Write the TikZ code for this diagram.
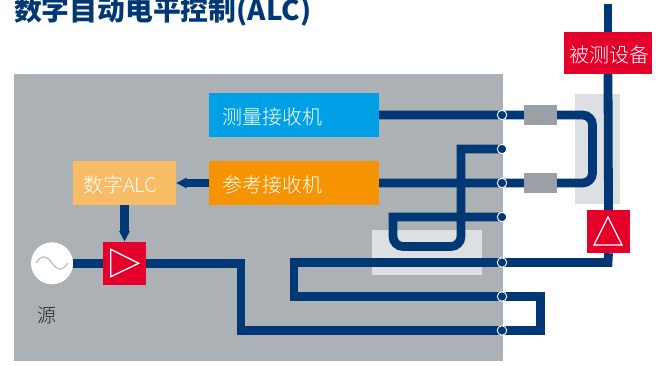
\documentclass[tikz,border=0pt]{standalone}
\usepackage{fontspec}
\setmainfont{Noto Sans CJK SC}
\newfontfamily\lightf{Noto Sans CJK SC Light}
\usetikzlibrary{arrows.meta}
\definecolor{navy}{HTML}{003876}
\definecolor{panel}{HTML}{ACB1B5}
\definecolor{pale}{HTML}{DDE0E3}
\definecolor{attgray}{HTML}{9AA0A6}
\definecolor{skyb}{HTML}{00A0E6}
\definecolor{orangeb}{HTML}{F59300}
\definecolor{peach}{HTML}{F8BC66}
\definecolor{redb}{HTML}{E4002B}
\definecolor{labelgray}{HTML}{222222}
\tikzset{
  x=1pt,y=-1pt,
  block/.style={inner sep=0pt,minimum height=44pt,text=white,font=\lightf\fontsize{20}{24}\selectfont,align=center,text height=21.6pt,text depth=2.4pt},
  redsq/.style={fill=redb,inner sep=0pt,minimum width=43pt,minimum height=43pt},
  att/.style={fill=attgray,inner sep=0pt,minimum width=33pt,minimum height=20pt},
  pale rect/.style={fill=pale},
  wire/.style={draw=navy,line width=8.8pt,line join=miter},
  soft/.style={wire,rounded corners=10pt},
  taper/.style={wire,-{Triangle[length=10.5pt,width=10pt]}},
  port/.style={circle,fill=navy,draw=white,line width=0.9pt,minimum size=9.5pt,inner sep=0pt},
  tri/.style={draw=white,line width=1.3pt,line join=miter},
}
\begin{document}
\begin{tikzpicture}
\useasboundingbox (0,0) rectangle (662,365);
\fill[white] (0,0) rectangle (662,365);
\fill[panel] (14,74) rectangle (503,361);
\fill[pale rect] (575,94) rectangle (620,204);
\fill[pale rect] (372,230) rectangle (482,275);

\node[anchor=base west,inner sep=0pt,text=navy,font=\fontsize{27.8}{32}\selectfont\bfseries] (title) at (14,20) {数字自动电平控制(ALC)};

% blocks
\node[block,fill=skyb,minimum width=170pt,text width=170pt-26pt,align=left] (meas) at (294,115) {测量接收机};
\node[block,fill=orangeb,minimum width=170pt,text width=170pt-26pt,align=left] (ref) at (294,183) {参考接收机};
\node[block,fill=peach,minimum width=103pt,text width=103pt-20pt,align=left] (alc) at (124.5,183) {数字ALC};
\node[redsq] (amp) at (124.5,263.3) {};
\node[circle,fill=white,minimum size=42pt,inner sep=0pt] (src) at (52,263.3) {};
\node[text=labelgray,font=\lightf\fontsize{19}{22}\selectfont,inner sep=0pt] (srclabel) at (47,315) {源};
\node[block,fill=redb,minimum width=88pt,minimum height=42pt] (dut) at (608,53) {\hspace*{2pt}被测设备};
\node[redsq] (tamp) at (608.5,231.5) {};

% ports
\coordinate (p1) at (502,115);
\coordinate (p2) at (502,149);
\coordinate (p3) at (502,183);
\coordinate (p4) at (502,217);
\coordinate (p5) at (502,262.5);
\coordinate (p6) at (502,296.5);
\coordinate (p7) at (502,330.5);
\coordinate (top) at (608,4);

% connectors
\draw[wire] (src.east) -- (amp.west);
\draw[taper] (ref.west) -- (alc.east);
\draw[taper] (alc.south) -- (amp.north);
\draw[soft] (meas.east |- p1) -- (592.5,115) -- (592.5,183) -- (ref.east |- p3);
\draw[wire] (p2) -- (461,149) -- (461,236.5) .. controls (461,242) and (456.5,246.5) .. (451,246.5) -- (403,246.5) .. controls (397.5,246.5) and (393,242) .. (393,236.5) -- (393,217) -- (p4);
\draw[wire] (top) -- (dut.north);
\draw[wire] (dut.south) -- (tamp.north);
\draw[wire] (tamp.south) -- (608,262.5) -- (p5);
\draw[wire] (p5) -- (294,262.5) -- (294,296.5) -- (540.8,296.5) -- (540.8,330.5) -- (241,330.5) -- (241,263.3) -- (amp.east);

% attenuators
\node[att] (a1) at (540.5,115) {};
\node[att] (a2) at (540.5,183) {};

% ports on top
\foreach \n in {1,...,7} \node[port] (q\n) at (p\n) {};

% device redraw
\node[block,fill=redb,minimum width=88pt,minimum height=42pt] at (dut) {\hspace*{2pt}被测设备};
\node[redsq] at (tamp) {};
\draw[tri] (608,217) -- (594,245) -- (622,245) -- cycle;
\draw[tri] (110.7,249.3) -- (110.7,276.7) -- (138.7,263.3) -- cycle;
\draw[draw=attgray!70!white,line width=1.2pt] (36,263) .. controls (42,254) and (47,256) .. (52,263) .. controls (57,270) and (62,272) .. (68,263);
\end{tikzpicture}
\end{document}
